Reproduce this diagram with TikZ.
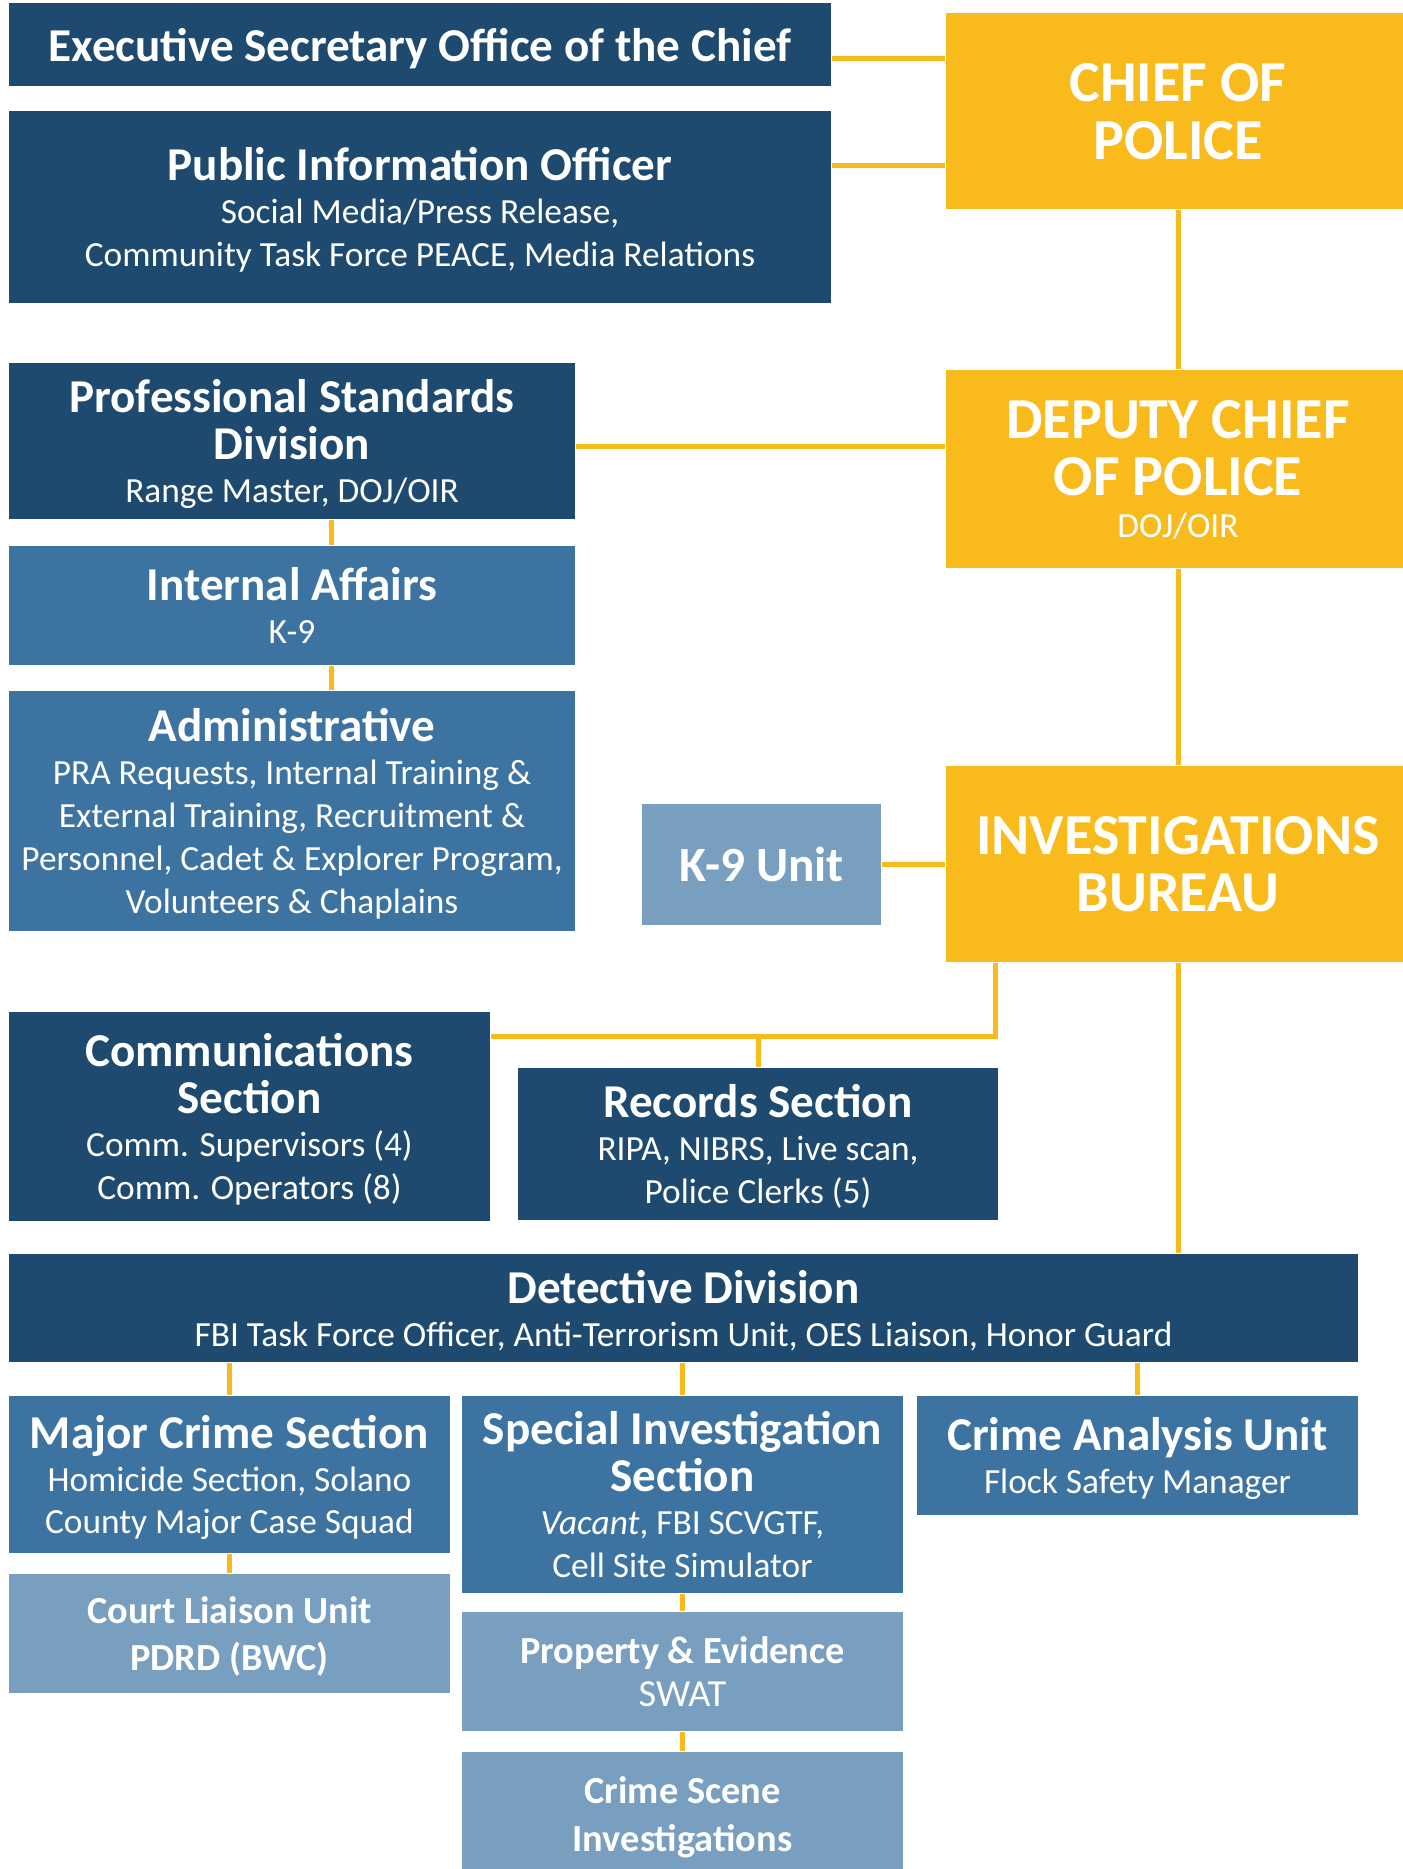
\documentclass[tikz,border=0pt]{standalone}
\usepackage{fontspec}
\setmainfont{Carlito}
\usepackage{xcolor}
\definecolor{divnavy}{RGB}{29,74,110}
\definecolor{unitblue}{RGB}{61,115,161}
\definecolor{sectlight}{RGB}{120,158,192}
\definecolor{chiefgold}{RGB}{249,187,27}
\newcommand{\boxhead}[1]{{\bfseries\fontsize{13.4}{14}\selectfont #1}}
\newcommand{\lighthead}[1]{{\bfseries\fontsize{10.9}{12}\selectfont #1}}
\newcommand{\goldhead}[1]{{\bfseries\fontsize{16.5}{17}\selectfont #1}}

\begin{document}
\begin{tikzpicture}[x=0.01cm, y=-0.01cm,
    box/.style={rectangle, inner sep=0pt, text=white, align=center, font=\fontsize{10.05}{12.2}\selectfont},
    darkbox/.style={box, fill=divnavy, text depth=-1pt},
    midbox/.style={box, fill=unitblue, text depth=-1pt},
    lightbox/.style={box, fill=sectlight, text depth=-0.3pt},
    goldbox/.style={box, fill=chiefgold, text depth=-0.8pt},
    link/.style={chiefgold, line width=0.5mm}]
    \useasboundingbox (0,0) rectangle (1403,1869);
    \node[darkbox, minimum width=8.22cm, minimum height=0.83cm] (exec) at (420,44.5) {\boxhead{Executive Secretary Office of the Chief}};
    \node[darkbox, minimum width=8.22cm, minimum height=1.92cm] (pio) at (420,207) {\boxhead{Public Information Officer}\\ Social Media/Press Release,\\ Community Task Force PEACE, Media Relations};
    \node[goldbox, minimum width=4.64cm, minimum height=1.96cm] (chief) at (1178,111) {\goldhead{CHIEF OF}\\[4.3pt] \goldhead{POLICE}};
    \node[goldbox, minimum width=4.64cm, minimum height=1.98cm] (deputy) at (1178,469) {\goldhead{DEPUTY CHIEF}\\[4pt] \goldhead{OF POLICE}\\ DOJ/OIR};
    \node[darkbox, minimum width=5.66cm, minimum height=1.56cm] (psd) at (292,441) {\boxhead{Professional Standards}\\[1.2pt] \boxhead{Division}\\ Range Master, DOJ/OIR};
    \node[midbox, minimum width=5.66cm, minimum height=1.19cm] (ia) at (292,605.5) {\boxhead{Internal Affairs}\\ K-9};
    \node[midbox, minimum width=5.66cm, minimum height=2.40cm] (admin) at (292,811) {\boxhead{Administrative}\\ PRA Requests, Internal Training \&\\ External Training, Recruitment \&\\ Personnel, Cadet \& Explorer Program,\\ Volunteers \& Chaplains};
    \node[lightbox, text depth=-1.3pt, minimum width=2.39cm, minimum height=1.21cm] (k9) at (761.5,864.5) {{\bfseries\fontsize{14}{15}\selectfont K-9 Unit}};
    \node[goldbox, minimum width=4.64cm, minimum height=1.96cm] (ib) at (1178,864) {\goldhead{INVESTIGATIONS}\\[4pt] \goldhead{BUREAU}};
    \node[darkbox, minimum width=4.81cm, minimum height=2.09cm] (comm) at (249.5,1116.5) {\boxhead{Communications}\\[1pt] \boxhead{Section}\\ Comm. Supervisors (4)\\ Comm. Operators (8)};
    \node[darkbox, minimum width=4.80cm, minimum height=1.52cm] (records) at (758,1144) {\boxhead{Records Section}\\ RIPA, NIBRS, Live scan,\\ Police Clerks (5)};
    \node[darkbox, minimum width=13.49cm, minimum height=1.08cm] (det) at (683.5,1308) {\boxhead{Detective Division}\\ FBI Task Force Officer, Anti-Terrorism Unit, OES Liaison, Honor Guard};
    \node[midbox, minimum width=4.41cm, minimum height=1.57cm] (major) at (229.5,1474.5) {\boxhead{Major Crime Section}\\ Homicide Section, Solano\\ County Major Case Squad};
    \node[lightbox, minimum width=4.41cm, minimum height=1.19cm] (court) at (229.5,1633.5) {\lighthead{Court Liaison Unit}\\[1.2pt] \lighthead{PDRD (BWC)}};
    \node[midbox, minimum width=4.41cm, minimum height=1.97cm] (sis) at (682.5,1494.5) {\boxhead{Special Investigation}\\[1.2pt] \boxhead{Section}\\ \textit{Vacant}, FBI SCVGTF,\\ Cell Site Simulator};
    \node[lightbox, minimum width=4.41cm, minimum height=1.19cm] (prop) at (682.5,1671.5) {\lighthead{Property \& Evidence}\\ {\fontsize{10.9}{12}\selectfont SWAT}};
    \node[lightbox, minimum width=4.41cm, minimum height=1.24cm] (csi) at (682.5,1814) {\lighthead{Crime Scene}\\[1.4pt] \lighthead{Investigations}};
    \node[midbox, minimum width=4.41cm, minimum height=1.19cm] (cau) at (1137.5,1455.5) {\boxhead{Crime Analysis Unit}\\ Flock Safety Manager};
    \draw[link] ([yshift=-1.35mm]exec.east) -- ([yshift=-1.35mm]exec.east -| chief.west);
    \draw[link] ([yshift=4.1mm]pio.east) -- ([yshift=4.1mm]pio.east -| chief.west);
    \draw[link] (chief.south) -- (deputy.north);
    \draw[link] ([yshift=-0.5mm]psd.east) -- ([yshift=-0.5mm]psd.east -| deputy.west);
    \draw[link] ([xshift=3.9mm]psd.south) -- ([xshift=3.9mm]ia.north);
    \draw[link] ([xshift=3.9mm]ia.south) -- ([xshift=3.9mm]admin.north);
    \draw[link] (deputy.south) -- (ib.north);
    \draw[link] (k9.east) -- (k9.east -| ib.west);
    \draw[link] ([xshift=-18.2mm]ib.south) |- ([yshift=7.95mm]comm.east);
    \draw[link] (records.north) -- ([yshift=7.95mm]records.north |- comm.east);
    \draw[link] (ib.south) -- (ib.south |- det.north);
    \draw[link] (major.north) -- (major.north |- det.south);
    \draw[link] (sis.north) -- (sis.north |- det.south);
    \draw[link] (cau.north) -- (cau.north |- det.south);
    \draw[link] (major.south) -- (court.north);
    \draw[link] (sis.south) -- (prop.north);
    \draw[link] (prop.south) -- (csi.north);
\end{tikzpicture}
\end{document}
